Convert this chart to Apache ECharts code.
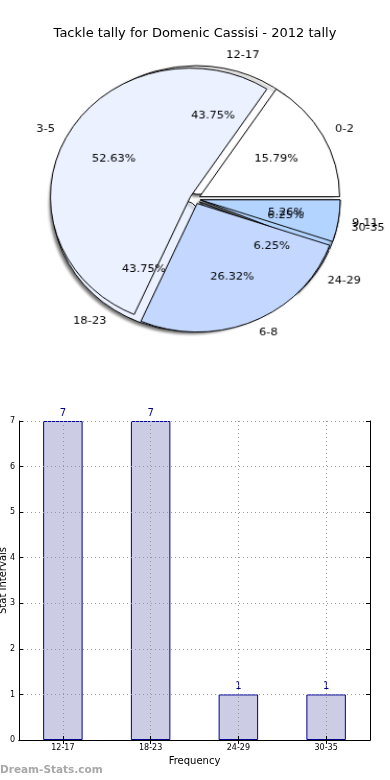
<!DOCTYPE html>
<html>
<head>
<meta charset="utf-8">
<script src="https://cdn.jsdelivr.net/npm/echarts@6/dist/echarts.min.js"></script>
<style>
html,body{margin:0;padding:0;background:#fff;}
#wrap{position:relative;width:390px;height:780px;overflow:hidden;}
#chart{position:absolute;left:0;top:0;width:390px;height:780px;}
#pie{position:absolute;left:0;top:0;width:390px;height:400px;transform-origin:195px 199px;}
</style>
</head>
<body>
<div id="wrap"><div id="chart"></div><div id="pie"></div></div>
<script>
// ---- data ----
var titleText = 'Tackle tally for Domenic Cassisi - 2012 tally';
var rangeCats = ['12-17', '18-23', '24-29', '30-35'];
var rangeCounts = [7, 7, 1, 1];
var statCats = ['0-2', '3-5', '6-8', '9-11'];
var statCounts = [3, 10, 5, 1];
var yTicks = [0, 1, 2, 3, 4, 5, 6, 7];
var pieColors = ['#ffffff', '#ebf1ff', '#c4d8ff', '#b3d4ff'];

var FONT = 'DejaVu Sans';
var CX = 195, CY = 199, R = 134;
var RX = 140, RY = 128.6;          // elliptical pie (matplotlib non-equal aspect)
var EXPLODE = 0.0377;              // explode fraction of radius
document.getElementById('pie').style.transform = 'scale(' + (RX / R) + ',' + (RY / R) + ')';

function pieItems(cats, vals, visible) {
  return cats.map(function (c, i) {
    return {
      name: c,
      value: vals[i],
      selected: visible,
      itemStyle: visible ? { color: pieColors[i % pieColors.length] } : { color: 'rgba(0,0,0,0)', borderWidth: 0 }
    };
  });
}

var noOverlap = { hideOverlap: false, moveOverlap: null };

function visiblePie(cats, vals, z, shadow) {
  var border = { borderColor: '#000', borderWidth: 1 };
  return {
    type: 'pie', center: [CX, CY], radius: [0, R], startAngle: 0, clockwise: false,
    silent: true, z: z, selectedMode: 'multiple', selectedOffset: EXPLODE * R,
    avoidLabelOverlap: false, animation: false,
    label: { show: false }, labelLine: { show: false },
    itemStyle: shadow ? {
      borderColor: '#000', borderWidth: 1,
      shadowColor: 'rgba(0,0,0,0.55)', shadowBlur: 3, shadowOffsetX: -2, shadowOffsetY: 2
    } : border,
    select: { itemStyle: border },
    emphasis: { disabled: true },
    data: pieItems(cats, vals, true)
  };
}

function pctPie(cats, vals) {
  return {
    type: 'pie', center: [CX, CY], radius: [0, 2 * (0.6 + EXPLODE) * R], startAngle: 0, clockwise: false,
    silent: true, z: 10, avoidLabelOverlap: false, animation: false, percentPrecision: 2,
    labelLayout: noOverlap,
    label: { show: true, position: 'inside', formatter: '{d}%', color: '#000', fontSize: 11, fontFamily: FONT, rotate: 0 },
    labelLine: { show: false },
    emphasis: { disabled: true },
    data: pieItems(cats, vals, false)
  };
}

function namePie(cats, vals) {
  return {
    type: 'pie', center: [CX, CY], radius: [0, R], startAngle: 0, clockwise: false,
    silent: true, z: 10, avoidLabelOverlap: false, animation: false,
    labelLayout: noOverlap,
    label: { show: true, position: 'outside', formatter: '{b}', color: '#000', fontSize: 11, fontFamily: FONT, distanceToLabelLine: 0 },
    labelLine: { show: false, length: (0.1 + EXPLODE) * R, length2: 0 },
    emphasis: { disabled: true },
    data: pieItems(cats, vals, false)
  };
}

var chart = echarts.init(document.getElementById('chart'), null, { renderer: 'canvas' });
var pie = echarts.init(document.getElementById('pie'), null, { renderer: 'canvas' });

pie.setOption({
  animation: false,
  series: [
    visiblePie(rangeCats, rangeCounts, 1, true),
    visiblePie(statCats, statCounts, 2, false),
    pctPie(rangeCats, rangeCounts),
    pctPie(statCats, statCounts),
    namePie(rangeCats, rangeCounts),
    namePie(statCats, statCounts)
  ]
});

var lineBlack = { show: true, lineStyle: { color: '#000', width: 1 } };
var dotted = { type: [1, 3], color: '#999', width: 1 };

chart.setOption({
  backgroundColor: '#fff',
  animation: false,
  title: {
    text: titleText, left: 'center', top: 22,
    textStyle: { fontFamily: FONT, fontSize: 13, fontWeight: 'normal', color: '#000' }
  },
  graphic: [{
    type: 'text', left: 0, top: 765,
    style: { text: 'Dream-Stats.com', fill: '#a8a8a8', font: 'bold 10.5px "DejaVu Sans"' }
  }],
  grid: { left: 19, right: 20, top: 421, bottom: 40, containLabel: false, outerBoundsMode: 'none' },
  xAxis: [{
    type: 'category', data: rangeCats, position: 'bottom', z: 5,
    axisLine: lineBlack,
    axisTick: { show: true, inside: true, length: 4, alignWithLabel: true, lineStyle: { color: '#000' } },
    axisLabel: { fontSize: 8, color: '#000', fontFamily: FONT, margin: 4 },
    splitLine: { show: true, alignWithLabel: true, lineStyle: dotted },
    name: 'Frequency', nameLocation: 'middle', nameGap: 16, nameMoveOverlap: false,
    nameTextStyle: { fontSize: 10, fontFamily: FONT, color: '#000' }
  }, {
    type: 'category', data: rangeCats, position: 'top', z: 5,
    axisLine: lineBlack,
    axisTick: { show: true, inside: true, length: 4, alignWithLabel: true, lineStyle: { color: '#000' } },
    axisLabel: { show: false }, splitLine: { show: false }
  }],
  yAxis: [{
    type: 'value', min: 0, max: 7, interval: 1, position: 'left', z: 5,
    axisLine: lineBlack,
    axisTick: { show: true, inside: true, length: 4, lineStyle: { color: '#000' } },
    axisLabel: { fontSize: 8, color: '#000', fontFamily: FONT, margin: 4,
      formatter: function (v) { return yTicks.indexOf(v) >= 0 ? String(v) : ''; } },
    splitLine: { show: true, lineStyle: dotted },
    name: 'Stat Intervals', nameLocation: 'middle', nameGap: 11, nameRotate: 90, nameMoveOverlap: false,
    nameTextStyle: { fontSize: 10, fontFamily: FONT, color: '#000' }
  }, {
    type: 'value', min: 0, max: 7, interval: 1, position: 'right', z: 5,
    axisLine: lineBlack,
    axisTick: { show: true, inside: true, length: 4, lineStyle: { color: '#000' } },
    axisLabel: { show: false }, splitLine: { show: false }
  }],
  series: [
    {
      type: 'bar', xAxisIndex: 0, yAxisIndex: 0, data: rangeCounts, barWidth: '45%', z: 2,
      itemStyle: { color: '#ccccE5', borderColor: '#00008b', borderWidth: 1 },
      label: { show: true, position: 'top', distance: 3, color: '#00008b', fontSize: 10, fontFamily: FONT },
      emphasis: { disabled: true }, silent: true
    }
  ]
});
</script>
</body>
</html>
